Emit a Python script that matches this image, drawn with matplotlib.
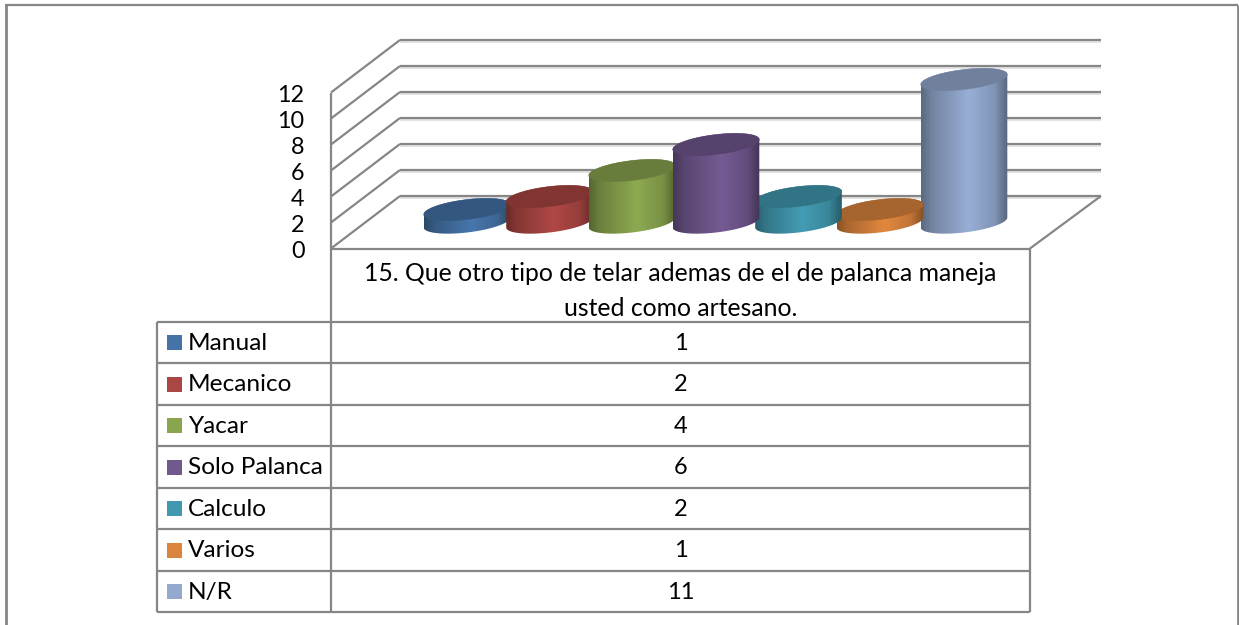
import numpy as np
import matplotlib
matplotlib.use("Agg")
import matplotlib.pyplot as plt
from matplotlib.patches import Polygon, Rectangle

plt.rcParams['font.family'] = ['Lato', 'DejaVu Sans']

categories = ["Manual", "Mecanico", "Yacar", "Solo Palanca", "Calculo", "Varios", "N/R"]
values = [1, 2, 4, 6, 2, 1, 11]
yticks = [0, 2, 4, 6, 8, 10, 12]
colors = ["#4573A7", "#AA4643", "#89A54E", "#71588F", "#4198AF", "#DB843D", "#93A9CF"]
header = "15. Que otro tipo de telar ademas de el de palanca maneja\nusted como artesano."

GRAY = "#868686"
PX_PER_UNIT = 13
FRONT_Y0 = 248.5
BACK_Y0 = 196
CENTERS = [467, 549.5, 632, 716, 798.5, 880, 964]
BASE_Y = 222.5
RADIUS = 43.3
DRAW_ORDER = [0, 1, 2, 6, 5, 4, 3]  # outer ones first, purple ends on top

fig = plt.figure(figsize=(12.39, 6.25), dpi=100)
ax = fig.add_axes([0, 0, 1, 1])


def line(xs, ys, lw=1.6, color=GRAY, z=2):
    ax.plot(xs, ys, color=color, lw=lw, solid_capstyle="butt", zorder=z)


def ellipse(cx, cy, t, a=RADIUS):
    return cx + a * np.cos(t), cy - 0.115 * a * np.cos(t) + 10 * np.sin(t)


def shade(hex_color, f):
    return np.array(matplotlib.colors.to_rgb(hex_color)) * f


def cylinder(cx, value, color, z):
    top_y = BASE_Y - value * PX_PER_UNIT
    low = np.linspace(np.pi, 0, 60)
    up = np.linspace(0, -np.pi, 60)
    bx, by = ellipse(cx, BASE_Y, low)
    tx, ty = ellipse(cx, top_y, up)
    pts = np.column_stack([np.r_[bx, tx], np.r_[by, ty]])
    side = Polygon(pts, closed=True, facecolor="none", edgecolor="none", zorder=z)
    ax.add_patch(side)
    # horizontal shading across the side of the cylinder
    pos = np.linspace(0, 1, 128)
    f = np.interp(pos, [0, 0.12, 0.55, 0.85, 1], [0.62, 0.78, 1.03, 0.88, 0.6])
    img = np.clip(np.outer(f, matplotlib.colors.to_rgb(color)), 0, 1)[None, :, :]
    im = ax.imshow(img, extent=[cx - RADIUS, cx + RADIUS, BASE_Y + 15, top_y - 15],
                   aspect="auto", zorder=z, interpolation="bilinear")
    im.set_clip_path(side)
    t = np.linspace(0, 2 * np.pi, 120)
    ex, ey = ellipse(cx, top_y, t)
    ax.fill(ex, ey, color=shade(color, 0.76), lw=0.3, zorder=z + 0.1)


# chart frame, no line along the bottom
line([5.5, 5.5], [4.5, 625], lw=2)
line([5, 1238], [4.5, 4.5], lw=1.6)
line([1238, 1238], [4.5, 625], lw=2)

# walls and gridlines
for v in yticks:
    off = v * PX_PER_UNIT
    line([400, 1101], [BACK_Y0 + 1.8 - off] * 2, lw=1.2, color="#dedede", z=1)
    line([400, 1101], [BACK_Y0 - off] * 2)
    line([331, 400], [FRONT_Y0 - off, BACK_Y0 - off])
    ax.text(304.5, FRONT_Y0 - off + 1, str(v), ha="right", va="center_baseline",
            fontsize=16.8, color="#000000")
line([331, 331], [FRONT_Y0 - yticks[-1] * PX_PER_UNIT, FRONT_Y0])
line([1030, 1101], [FRONT_Y0, BACK_Y0])

for k in DRAW_ORDER:
    cylinder(CENTERS[k], values[k], colors[k], 5 + DRAW_ORDER.index(k))

# data table
row_y = [322, 363.3, 404.8, 446.3, 487.8, 529.3, 570.8, 612.3]
line([331, 1030], [248.5, 248.5])
line([331, 331], [248.5, row_y[-1]])
line([1030, 1030], [248.5, row_y[-1]])
line([157, 157], [row_y[0], row_y[-1]])
for y in row_y:
    line([157, 1030], [y, y])

ax.text(680.5, 291, header, ha="center", va="center", fontsize=17.8,
        color="#000000", linespacing=1.62)
for i, name in enumerate(categories):
    mid = (row_y[i] + row_y[i + 1]) / 2
    ax.add_patch(Rectangle((167, mid - 7.5), 15, 15, facecolor=colors[i], edgecolor="none", zorder=3))
    ax.text(188, mid - 1.5, name, ha="left", va="center_baseline", fontsize=17.6, color="#000000")
    ax.text(680.5, mid - 1.5, str(values[i]), ha="center", va="center_baseline", fontsize=17, color="#000000")

ax.set_xlim(0, 1239)
ax.set_ylim(625, 0)
ax.axis("off")
fig.savefig("out.png", dpi=100, facecolor="white")
